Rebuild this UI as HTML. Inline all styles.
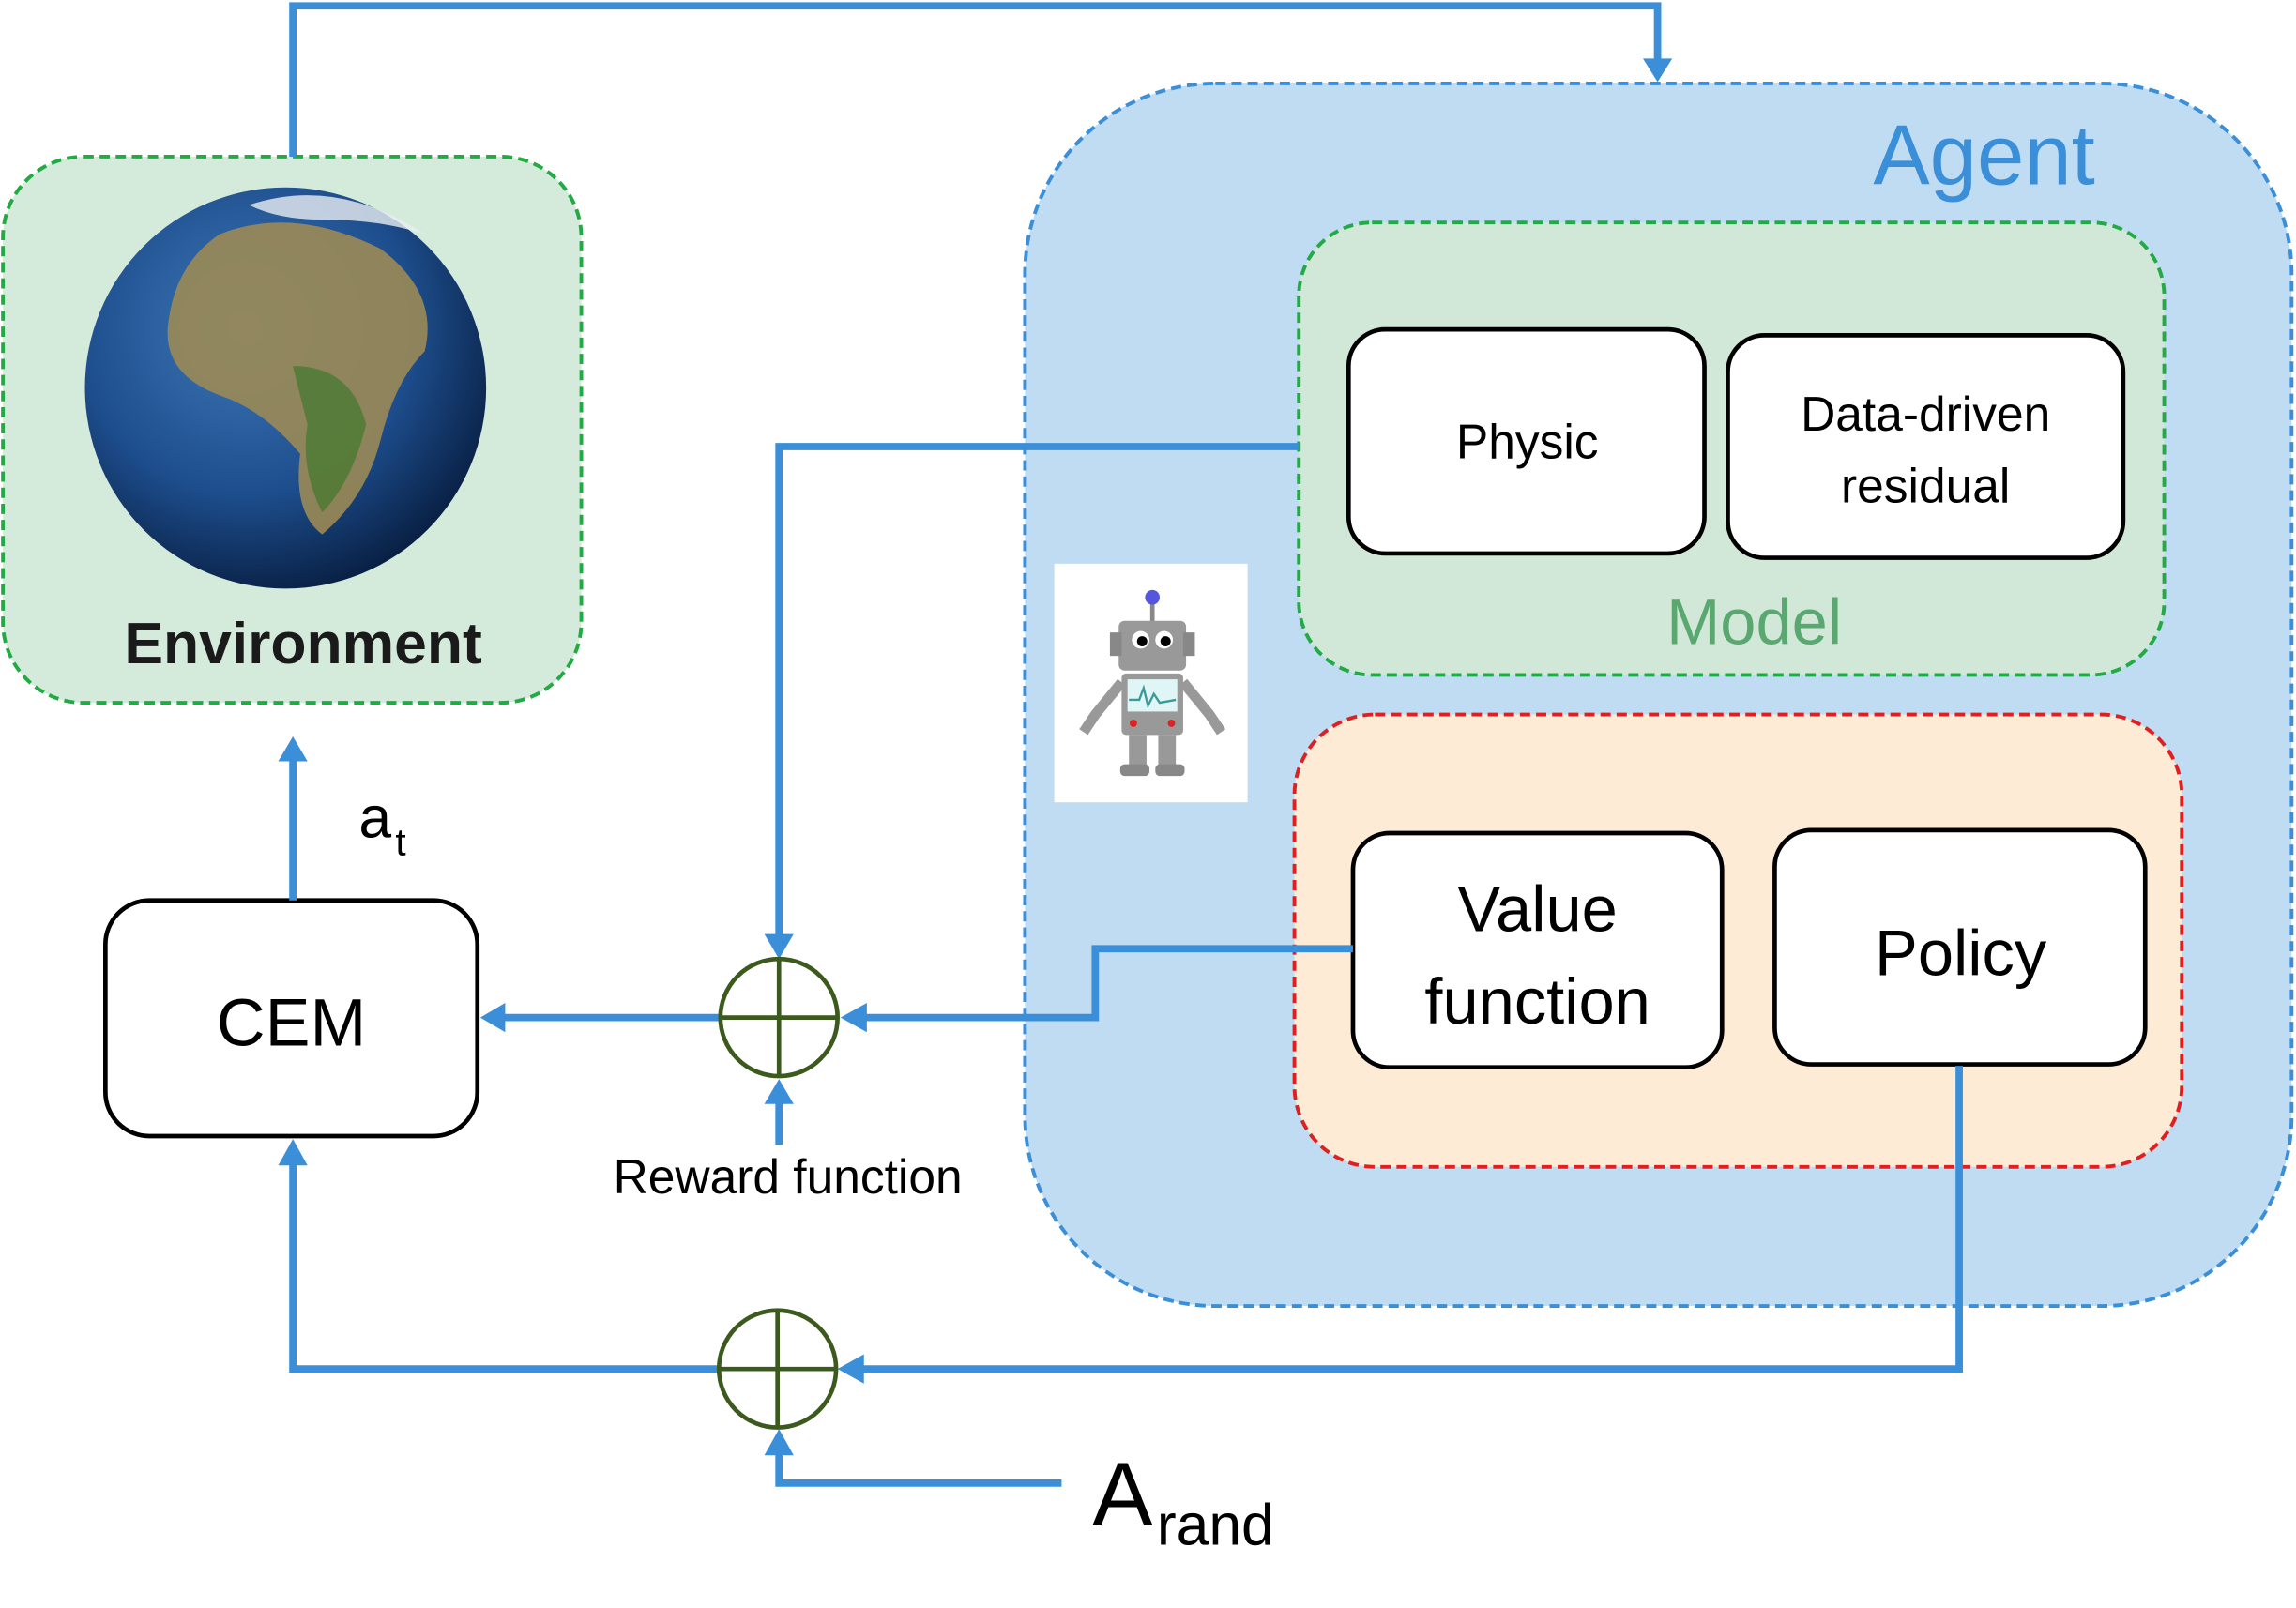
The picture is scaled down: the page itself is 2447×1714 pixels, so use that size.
<!DOCTYPE html>
<html><head><meta charset="utf-8"><style>
html,body{margin:0;padding:0;background:#fff;}
svg{display:block;}
text{font-family:"Liberation Sans","DejaVu Sans",sans-serif;}
</style></head><body>
<svg width="2447" height="1714" viewBox="0 0 1568 1098.3" preserveAspectRatio="none" xmlns="http://www.w3.org/2000/svg">
<defs>
<marker id="ar" markerWidth="10" markerHeight="10" refX="9" refY="5" orient="auto" markerUnits="userSpaceOnUse" viewBox="0 0 10 10">
</marker>
<radialGradient id="earth" cx="40%" cy="35%" r="70%">
<stop offset="0" stop-color="#3f78b8"/><stop offset="0.6" stop-color="#1d4d8c"/><stop offset="1" stop-color="#071c3e"/>
</radialGradient>
</defs>
<!-- Agent -->
<rect x="700" y="57" width="865" height="835" rx="130" fill="#bfdcf3" stroke="#3a8fd8" stroke-width="2.5" stroke-dasharray="7,4"/>
<text x="1355" y="126" font-size="58" fill="#3a8fd8" text-anchor="middle">Agent</text>
<!-- Environment -->
<rect x="2" y="107" width="395" height="373" rx="55" fill="#d4eadb" stroke="#22aa44" stroke-width="2.5" stroke-dasharray="7,4"/>
<circle cx="195" cy="265" r="137" fill="url(#earth)"/>
<path d="M150 160 Q200 140 260 170 Q300 200 290 240 Q270 260 260 300 Q250 340 220 365 Q200 350 205 310 Q180 280 150 270 Q110 255 115 220 Q120 180 150 160Z" fill="#9b8a55" opacity="0.9"/>
<path d="M200 250 Q240 250 250 290 Q240 330 220 350 Q205 320 210 290Z" fill="#4f7a35" opacity="0.85"/>
<path d="M170 140 Q230 120 290 160 Q260 150 220 150 Q190 150 170 140Z" fill="#e8eef2" opacity="0.8"/>
<text x="207" y="453" font-size="40" fill="#1a1a1a" text-anchor="middle" font-weight="bold">Environment</text>
<!-- Model -->
<rect x="887" y="152" width="591" height="309" rx="50" fill="#d1e8d8" stroke="#22aa44" stroke-width="2.5" stroke-dasharray="7,4"/>
<rect x="921" y="225" width="243" height="153" rx="25" fill="#fff" stroke="#000" stroke-width="3"/>
<text x="1043" y="313" font-size="33" text-anchor="middle">Physic</text>
<rect x="1180" y="229" width="270" height="152" rx="25" fill="#fff" stroke="#000" stroke-width="3"/>
<text x="1315" y="294" font-size="33" text-anchor="middle">Data-driven</text>
<text x="1315" y="343" font-size="33" text-anchor="middle">residual</text>
<text x="1198" y="440" font-size="44" fill="#5aa870" text-anchor="middle">Model</text>
<!-- Orange -->
<rect x="884" y="488" width="606" height="309" rx="55" fill="#fdebd6" stroke="#e02020" stroke-width="2.5" stroke-dasharray="7,4"/>
<rect x="924" y="569" width="252" height="160" rx="25" fill="#fff" stroke="#000" stroke-width="3"/>
<text x="1050" y="636" font-size="44" text-anchor="middle">Value</text>
<text x="1050" y="699" font-size="44" text-anchor="middle">function</text>
<rect x="1212" y="567" width="253" height="160" rx="25" fill="#fff" stroke="#000" stroke-width="3"/>
<text x="1339" y="666" font-size="44" text-anchor="middle">Policy</text>
<!-- Robot -->
<rect x="720" y="385" width="132" height="163" fill="#fff"/>
<g>
<line x1="787" y1="410" x2="787" y2="425" stroke="#888" stroke-width="3"/>
<circle cx="787" cy="408" r="5" fill="#5555dd"/>
<rect x="764" y="424" width="46" height="34" rx="4" fill="#999"/>
<rect x="758" y="432" width="8" height="16" fill="#888"/><rect x="808" y="432" width="8" height="16" fill="#888"/>
<circle cx="779" cy="437" r="6" fill="#fff"/><circle cx="795" cy="437" r="6" fill="#fff"/>
<circle cx="780" cy="438" r="3.5" fill="#000"/><circle cx="796" cy="438" r="3.5" fill="#000"/>
<rect x="766" y="460" width="42" height="42" rx="3" fill="#999"/>
<rect x="770" y="464" width="34" height="22" fill="#e0f5f5"/>
<polyline points="771,478 778,478 781,470 784,482 788,474 792,480 803,478" fill="none" stroke="#3a9a9a" stroke-width="1.5"/>
<circle cx="774" cy="494" r="2.5" fill="#d22"/><circle cx="800" cy="494" r="2.5" fill="#d22"/>
<path d="M766 466 L748 488 L740 500" stroke="#999" stroke-width="7" fill="none"/>
<path d="M808 466 L826 488 L834 500" stroke="#999" stroke-width="7" fill="none"/>
<rect x="771" y="502" width="12" height="22" fill="#999"/><rect x="791" y="502" width="12" height="22" fill="#999"/>
<rect x="765" y="522" width="20" height="8" rx="3" fill="#888"/><rect x="789" y="522" width="20" height="8" rx="3" fill="#888"/>
</g>
<!-- CEM -->
<rect x="72" y="615" width="254" height="161" rx="30" fill="#fff" stroke="#000" stroke-width="3"/>
<text x="199" y="714" font-size="46" text-anchor="middle">CEM</text>
<!-- Connectors -->
<g stroke="#3b8fd9" stroke-width="5" fill="none">
<polyline points="200,107 200,4 1132,4 1132,42"/>
<polyline points="200,615 200,518"/>
<polyline points="887,305 532,305 532,640"/>
<polyline points="924,648 748,648 748,695 590,695"/>
<polyline points="492,695 343,695"/>
<polyline points="532,782 532,752"/>
<polyline points="1338,728 1338,935 588,935"/>
<polyline points="491,935 200,935 200,794"/>
<polyline points="725,1013 532,1013 532,992"/>
</g>
<g fill="#3b8fd9">
<polygon points="1122,40 1142,40 1132,56"/>
<polygon points="190,520 210,520 200,503"/>
<polygon points="522,638 542,638 532,655"/>
<polygon points="592,685 592,705 574,695"/>
<polygon points="345,685 345,705 328,695"/>
<polygon points="522,754 542,754 532,737"/>
<polygon points="590,925 590,945 572,935"/>
<polygon points="190,796 210,796 200,778"/>
<polygon points="522,994 542,994 532,976"/>
</g>
<!-- Sum circles -->
<g stroke="#3d5a1e" stroke-width="3" fill="none">
<circle cx="532" cy="695" r="40"/><line x1="492" y1="695" x2="572" y2="695"/><line x1="532" y1="655" x2="532" y2="735"/>
<circle cx="531" cy="935" r="40"/><line x1="491" y1="935" x2="571" y2="935"/><line x1="531" y1="895" x2="531" y2="975"/>
</g>
<text x="245" y="572" font-size="40">a</text><text x="270" y="584" font-size="26">t</text>
<text x="538" y="815" font-size="33" text-anchor="middle">Reward function</text>
<text x="746" y="1042" font-size="62">A</text><text x="790" y="1055" font-size="40">rand</text>
</svg>
</body></html>
